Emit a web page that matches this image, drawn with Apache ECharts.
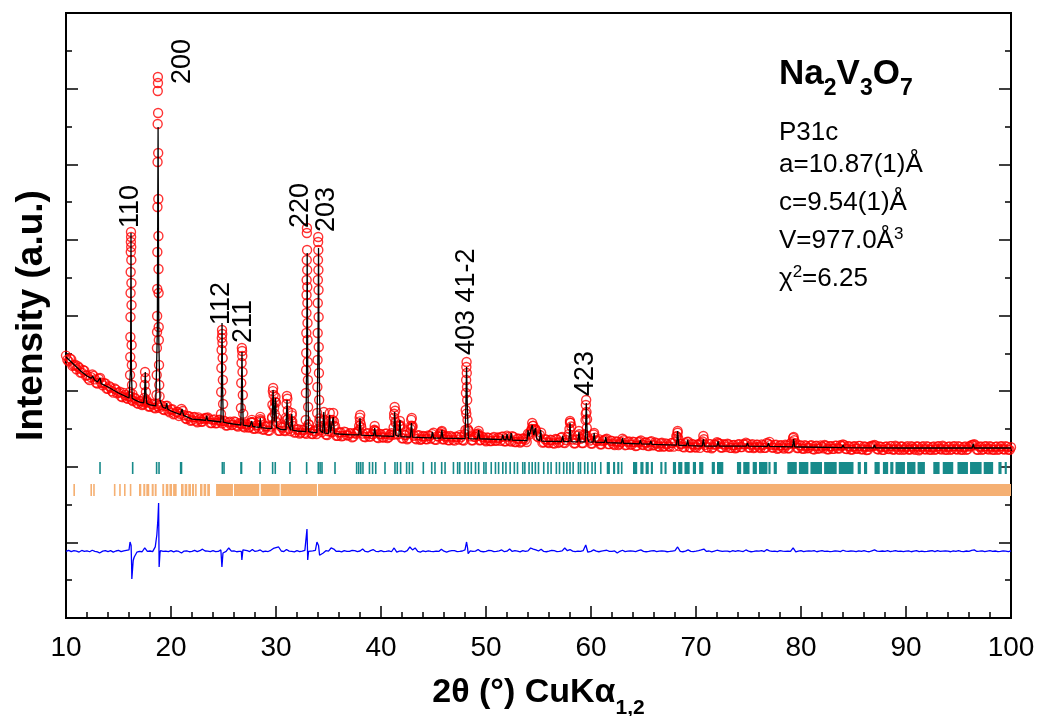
<!DOCTYPE html>
<html><head><meta charset="utf-8">
<script src="https://cdn.jsdelivr.net/npm/echarts@6/dist/echarts.min.js"></script>
<style>html,body{margin:0;padding:0;background:#fff;overflow:hidden}#c{width:1038px;height:716px}</style>
</head><body><div id="c"></div>
<script>
// ---------- DATA ----------
// observed background points: 2θ = obsStart + i*obsStep, and a second set offset by half a step
const obsStart = 10, obsStep = 0.25, obsStartMid = 10.125;
const obsBackground = [
3470,3393,3420,3342, 3289,3309,3244,3270, 3210,3145,3220,3155, 3101,3174,3078,3101,
3030,3050,2980,3020, 2980,2928,2977,2910, 2929,2886,2913,2844, 2866,2816,2850,2852,
2797,2825,2773,2800, 2815,2757,2804,2740, 2757,2694,2725,2672, 2764,2681,2632,2664,
2616,2658,2589,2631, 2598,2645,2651,2578, 2620,2575,2615,2600, 2610,2545,2585,2550,
2600,2545,2575,2560, 2520,2555,2525,2591, 2506,2552,2629,2490, 2532,2479,2530,2560,
2600,2476,2527,2479, 2620,2503,2680,2451, 2488,2440,2491,2448, 2520,2487,2433,2465,
2500,2484,2543,2426, 2470,2458,2536,2410, 2453,2401,2464,2418, 2441,2389,2448,2461,
2600,2438,2391,2445, 2398,2431,2470,2378, 2432,2386,2439,2393, 2442,2650,2429,2548,
2376,2420,2364,2452, 2541,2375,2413,2357, 2406,2365,2413,2372, 2450,2355,2399,2459,
2363,2407,2351,2391, 2345,2394,2418,2353, 2432,2500,2401,2350, 2395,2439,2353,2388,
2337,2381,2339,2393, 2347,2380,2399,2337, 2411,2345,2403,2327, 2371,2320,2373,2357,
2436,2464,2543,2482, 2390,2450,2324,2359, 2313,2352,2306,2361, 2325,2394,2313,2393,
2582,2361,2311,2410, 2370,2314,2700,2368, 2307,2426,2345,2364, 2297,2351,2370,2299,
2342,2286,2330,2303, 2371,2285,2329,2292, 2331,2275,2323,2347, 2286,2320,2273,2337,
2286,2309,2263,2317, 2270,2299,2263,2316, 2325,2450,2304,2262, 2311,2330,2254,2292,
2254,2294,2314,2364, 2259,2299,2244,2294, 2324,2304,2254,2289, 2304,2249,2284,2244,
2294,2259,2299,2319, 2254,2289,2248,2293, 2261,2296,2250,2315, 2329,2253,2288,2237,
2281,2256,2290,2244, 2304,2380,2312,2247, 2281,2236,2275,2250, 2285,2229,2279,2243,
2268,2287,2232,2271, 2236,2280,2245,2284, 2294,2238,2273,2227, 2267,2241,2276,2230,
2270,2220,2264,2279, 2289,2234,2268,2223, 2263,2238,2273,2228, 2278,2233,2268,2223,
2258,2228,2273,2238, 2268,2218,2263,2233, 2273,2228,2258,2223, 2268,2238,2278,2228,
2263,2223,2268,2233, 2273,2228,2258,2223, 2268,2288,2298,2228, 2263,2223,2268,2238,
2273,2228,2263,2223, 2268,2233,2273,2228, 2258
];
const obsBackgroundMid = [
3414,3431,3333,3351, 3329,3244,3279,3205, 3165,3185,3201,3111, 3163,3111,3105,3033,
3065,3000,3035,2970, 2992,2920,2949,2897, 2932,2869,2901,2833, 2871,2826,2861,2797,
2834,2782,2830,2778, 2808,2750,2807,2719, 2760,2702,2724,2701, 2737,2639,2671,2608,
2654,2606,2653,2595, 2631,2643,2630,2577, 2627,2577,2622,2573, 2602,2547,2597,2557,
2592,2532,2572,2532, 2568,2518,2583,2503, 2544,2506,2597,2494, 2535,2477,2654,2701,
2577,2474,2516,2473, 2634,2471,2538,2455, 2496,2453,2485,2437, 2558,2435,2476,2433,
2595,2458,2522,2420, 2539,2457,2535,2409, 2457,2410,2458,2412, 2445,2398,2437,2480,
2519,2397,2440,2399, 2432,2490,2389,2433, 2391,2435,2379,2423, 2421,2600,2428,2547,
2375,2419,2378,2542, 2410,2364,2418,2367, 2400,2364,2407,2431, 2360,2404,2439,2363,
2397,2352,2406,2355, 2399,2359,2393,2347, 2700,2471,2350,2395, 2429,2349,2398,2353,
2386,2340,2379,2343, 2386,2344,2398,2337, 2395,2334,2393,2327, 2370,2334,2373,2327,
2425,2493,2492,2401, 2420,2319,2364,2323, 2357,2312,2366,2315, 2384,2319,2353,2432,
2532,2311,2356,2430, 2314,2429,2628,2347, 2306,2385,2339,2298, 2341,2360,2299,2343,
2301,2335,2288,2327, 2350,2289,2333,2292, 2325,2279,2333,2292, 2320,2279,2328,2282,
2320,2273,2307,2266, 2309,2273,2312,2266, 2404,2273,2302,2256, 2329,2258,2301,2260,
2294,2249,2334,2289, 2254,2299,2259,2294, 2314,2254,2299,2259, 2294,2249,2289,2254,
2299,2259,2294,2304, 2254,2299,2258,2292, 2246,2286,2250,2300, 2289,2253,2293,2247,
2286,2241,2280,2244, 2324,2303,2247,2282, 2241,2286,2245,2280, 2235,2274,2239,2283,
2243,2277,2232,2271, 2236,2280,2240,2274, 2284,2233,2268,2227, 2272,2236,2276,2230,
2265,2225,2269,2274, 2279,2229,2263,2223, 2268,2233,2273,2228, 2263,2223,2268,2233,
2273,2228,2263,2223, 2268,2233,2273,2228, 2263,2223,2268,2233, 2273,2228,2263,2223,
2268,2233,2273,2228, 2263,2223,2268,2233, 2273,2288,2283,2223, 2268,2233,2273,2228,
2263,2223,2268,2233, 2273,2228,2263,2223
];
// observed points on the Bragg peaks [2θ, I]
const obsPeaks = [
[16.08,2988],[16.10,3213],[16.12,3451],[16.13,3716],[16.14,3980],[16.15,4297],[16.16,4575],[16.17,4840],[16.18,4972],[16.19,5104],[16.20,5038],[16.21,4906],[16.22,4734],[16.23,4430],[16.24,4139],[16.25,3610],[16.27,3345],[16.29,3081],[16.33,2960],
[17.45,2909],[17.49,3081],[17.53,3253],[17.57,3174],[17.61,2988],[17.66,2880],
[18.62,2949],[18.64,3213],[18.66,3570],[18.67,3782],[18.68,3993],[18.69,4350],[18.70,4840],[18.71,5435],[18.72,6030],[18.73,6532],[18.74,6969],[18.75,7154],[18.76,7074],[18.77,6678],[18.78,6149],[18.79,5540],[18.80,5051],[18.81,4615],[18.82,4297],[18.83,3848],[18.84,3676],[18.86,3345],[18.88,3081],[18.91,2930],
[24.76,2697],[24.78,2988],[24.80,3306],[24.82,3544],[24.84,3702],[24.86,3808],[24.88,3755],[24.90,3636],[24.92,3438],[24.94,3147],[24.96,2830],
[26.66,2777],[26.69,3107],[26.72,3372],[26.75,3570],[26.77,3531],[26.79,3464],[26.81,3253],[26.84,2949],[26.88,2700],
[27.66,2590],[27.70,2620],[27.74,2580],[28.45,2600],[28.50,2660],[28.55,2610],
[29.62,2640],[29.66,2820],[29.70,3000],[29.73,3041],[29.77,2950],[29.82,2780],[29.90,2860],[29.95,2922],[30.00,2850],[30.06,2650],
[30.95,2650],[31.00,2830],[31.04,2936],[31.08,2900],[31.12,2740],[31.18,2580],[31.45,2600],[31.50,2711],[31.55,2600],
[32.83,2618],[32.85,2975],[32.87,3279],[32.88,3504],[32.89,3769],[32.90,4033],[32.91,4271],[32.92,4469],[32.93,4734],[32.94,5091],[32.95,5157],[32.96,4866],[32.97,4602],[32.98,4377],[32.99,4165],[33.00,3901],[33.01,3676],[33.02,3385],[33.04,3147],[33.06,2790],[33.10,2560],
[33.92,2711],[33.94,3055],[33.96,3412],[33.97,3769],[33.98,4165],[33.99,4469],[34.00,4734],[34.01,4972],[34.02,5038],[34.03,4866],[34.04,4602],[34.05,4337],[34.06,3980],[34.07,3583],[34.09,3240],[34.11,2883],[34.15,2640],
[34.50,2600],[34.55,2724],[34.60,2620],[35.05,2600],[35.12,2711],[35.20,2620],[35.38,2620],[35.45,2711],[35.52,2600],
[37.92,2540],[37.97,2650],[38.02,2684],[38.08,2560],[39.35,2480],[39.40,2539],[39.45,2470],
[41.20,2520],[41.25,2700],[41.30,2790],[41.35,2740],[41.40,2580],[41.75,2540],[41.80,2605],[41.85,2530],
[42.82,2500],[42.88,2620],[42.93,2645],[42.98,2520],[45.75,2430],[45.80,2473],[45.86,2420],
[48.04,2486],[48.07,2750],[48.09,2975],[48.11,3147],[48.13,3319],[48.15,3385],[48.17,3240],[48.19,3055],[48.21,2883],[48.24,2618],[48.30,2480],
[49.25,2420],[49.30,2473],[49.36,2410],[54.35,2500],[54.40,2578],[54.45,2540],[54.70,2500],
[57.95,2500],[58.00,2605],[58.05,2580],[58.85,2473],
[59.45,2420],[59.48,2618],[59.51,2816],[59.54,2883],[59.57,2724],[59.60,2512],[59.65,2400],
[60.30,2446],[68.20,2400],[68.25,2473],[68.30,2380],[70.70,2407],[79.30,2393],[79.35,2350]
];
// calculated profile [2θ, I]
const calcPoints = [
[10,3451],[10.5,3385],[11,3319],[11.5,3253],[12,3200],[12.4,3170],[12.55,3200],[12.7,3150],[13,3121],[13.15,3110],[13.25,3174],[13.35,3100],[13.5,3094],[14,3055],[15,2975],[15.5,2942],[16,2909],[16.1,2915],[16.15,3300],[16.19,5091],[16.23,3300],[16.3,2905],[16.6,2880],[17,2856],[17.4,2845],[17.48,2950],[17.55,3253],[17.62,2950],[17.7,2838],[18,2817],[18.55,2805],[18.7,3808],[18.74,5527],[18.77,6492],[18.8,5263],[18.84,3676],[18.95,2883],[19.2,2790],[19.5,2770],[19.6,2843],[19.7,2760],[20,2737],[20.9,2690],[21.05,2764],[21.2,2680],[22,2631],[23,2618],[23.3,2614],[23.4,2671],[23.5,2612],[24,2605],[24.75,2592],[24.8,3000],[24.86,3901],[24.92,3000],[24.98,2590],[25.5,2575],[26,2565],[26.65,2552],[26.7,2900],[26.76,3517],[26.82,2900],[26.88,2550],[27.5,2535],[27.62,2540],[27.7,2605],[27.78,2535],[28,2526],[28.42,2520],[28.5,2645],[28.58,2518],[29,2512],[29.6,2505],[29.72,3015],[29.83,2600],[29.95,2909],[30.05,2520],[30.5,2492],[30.95,2490],[31.05,2883],[31.15,2560],[31.4,2482],[31.5,2697],[31.6,2480],[32,2473],[32.85,2465],[32.92,3400],[32.97,4826],[33.02,3300],[33.1,2465],[33.5,2453],[33.9,2450],[34.0,3600],[34.05,4893],[34.1,3500],[34.2,2480],[34.45,2450],[34.55,2724],[34.65,2445],[35.0,2440],[35.1,2684],[35.2,2450],[35.35,2440],[35.45,2658],[35.55,2438],[36,2433],[37,2426],[37.9,2421],[38.0,2645],[38.1,2419],[38.5,2416],[39.3,2411],[39.4,2512],[39.5,2410],[40,2407],[41.2,2401],[41.3,2724],[41.4,2420],[41.7,2399],[41.8,2618],[41.9,2398],[42.8,2392],[42.9,2578],[43.0,2391],[44,2386],[44.8,2381],[44.9,2460],[45.0,2380],[45.7,2379],[45.8,2486],[45.9,2378],[47,2375],[48.0,2372],[48.08,2800],[48.15,3319],[48.22,2800],[48.32,2371],[49.2,2369],[49.3,2486],[49.4,2368],[50,2367],[51.5,2360],[51.6,2420],[51.7,2358],[51.9,2357],[52.0,2433],[52.1,2355],[52.3,2354],[52.4,2446],[52.5,2353],[53.9,2346],[54.0,2486],[54.1,2400],[54.4,2552],[54.55,2420],[54.7,2512],[54.85,2360],[55.1,2345],[55.2,2486],[55.3,2340],[57.2,2334],[57.3,2407],[57.4,2333],[57.9,2332],[58.0,2578],[58.1,2332],[58.75,2330],[58.85,2460],[58.95,2330],[59.45,2329],[59.55,2843],[59.65,2380],[59.8,2328],[60.2,2326],[60.3,2446],[60.4,2325],[61.3,2321],[61.4,2393],[61.5,2320],[62.9,2312],[63.0,2380],[63.1,2311],[64.6,2302],[64.7,2354],[64.8,2302],[65.6,2298],[65.7,2340],[65.8,2297],[68.15,2285],[68.25,2473],[68.35,2284],[69.1,2281],[69.2,2354],[69.3,2280],[70.6,2274],[70.7,2367],[70.8,2274],[72.0,2274],[72.1,2340],[72.2,2274],[74.8,2274],[74.9,2314],[75.0,2274],[76.8,2270],[76.9,2314],[77.0,2269],[79.2,2263],[79.3,2367],[79.4,2262],[80,2261],[83.9,2254],[84.0,2287],[84.1,2254],[86.9,2249],[87.0,2287],[87.1,2249],[90,2248],[96.3,2248],[96.4,2301],[96.5,2248],[100,2248]
];
// difference curve: regular points 2θ = diffStart + i*diffStep, plus sharp features [2θ, I]
const diffStart = 10, diffStep = 0.25;
const diffValues = [
880,895,878,890, 884,872,893,880, 888,876,896,882, 875,860,884,892, 879,890,872,886,
894,878,889,895, 900,700,807,870, 882,876,926,880, 886,878,940,1300, 892,880,885,878,
890,875,888,880, 860,885,888,876, 880,894,877,890, 910,886,884,879, 890,877,880,900,
886,880,926,884, 888,876,880,767, 884,890,878,905, 880,889,900,876, 884,879,895,920,
930,939,886,878, 905,884,880,874, 890,877,884,895, 900,880,888,894, 990,850,860,890,
885,926,912,880, 884,874,890,882, 880,893,892,878, 886,912,880,873, 891,905,882,877,
890,879,880,889, 876,926,870,884, 886,875,890,939, 900,926,880,872, 889,879,888,880,
878,885,880,910, 884,872,884,891, 890,878,880,886, 900,920,888,880, 884,905,880,876,
882,893,890,878, 880,888,900,877, 884,912,880,890, 884,875,890,881, 888,926,910,900,
886,910,880,876, 884,893,890,879, 880,887,926,890, 905,884,878,884, 880,890,965,870,
882,900,884,876, 884,890,896,880, 880,887,860,882, 896,878,884,889, 884,879,890,900,
882,876,880,888, 890,878,884,886, 884,876,880,885, 890,939,880,876, 884,900,882,879,
884,890,900,912, 880,886,874,884, 896,888,880,885, 884,876,890,880, 890,884,879,900,
885,876,880,889, 884,890,878,905, 888,880,884,877, 890,884,880,885, 880,926,875,884,
890,878,884,887, 884,890,876,884, 892,880,884,877, 880,889,884,878, 896,884,880,886,
884,878,889,881, 890,880,876,888, 900,884,880,886, 882,890,878,884, 892,880,884,879,
884,888,876,883, 890,879,884,877, 880,886,890,878, 892,880,884,887, 884,876,889,880,
890,882,878,886, 882,895,900,880, 884,889,877,884, 890,880,886,878, 880,888,884,879,
888
];
const diffFeatures = [
[13.2,860],[16.1,1005],[16.15,1000],[16.2,960],[16.27,516],[16.4,760],[18.65,1098],[18.82,1521],[18.87,674],[18.95,860],
[24.85,674],[24.95,860],[26.7,880],[26.85,900],[32.9,920],[32.95,1177],[33.02,767],[33.1,880],
[33.9,1005],[34.05,960],[34.15,830],[48.15,1005],[48.3,850],[59.7,870]
];
// Bragg reflection positions, [from, to] in 2θ (single lines have from = to)
const phase1Ticks = [
[13.24,13.24],[16.35,16.35],[18.63,18.63],[18.86,18.86],[20.92,20.92],[21.0,21.0],[24.89,24.89],[25.05,25.05],[26.67,26.67],[26.72,26.72],[28.48,28.48],[29.68,29.68],[29.93,29.93],[31.33,31.33],[32.92,32.92],[34.03,34.03],[34.2,34.2],[34.35,34.41],[35.62,35.62],[37.68,37.68],[37.85,37.9],[38.05,38.1],[38.25,38.31],[38.9,38.9],[39.2,39.2],[39.5,39.5],[40.38,40.38],[41.33,41.33],[41.55,41.55],[41.87,41.87],[42.44,42.44],[42.7,42.7],[43.0,43.0],[44.03,44.03],[44.83,44.83],[45.14,45.14],[45.78,45.78],[46.1,46.1],
[46.9,46.9],[47.3,47.3],[47.5,47.5],[48.0,48.0],[48.3,48.3],[48.6,48.6],[49.0,49.0],[49.3,49.3],[49.8,49.8],[50.0,50.0],[50.5,50.5],[50.9,50.9],[51.2,51.2],[51.6,51.6],[51.9,51.9],[52.3,52.3],[52.7,52.7],[53.0,53.0],[53.5,53.5],[53.7,53.7],[54.1,54.1],[54.4,54.4],[54.7,54.7],[55.0,55.0],[55.5,55.5],[55.9,55.9],[56.2,56.2],[56.7,56.7],[57.0,57.0],[57.4,57.4],[57.7,57.7],[58.0,58.0],[58.3,58.3],[58.8,58.8],[59.0,59.0],[59.4,59.4],[59.7,59.7],[60.1,60.1],[60.4,60.4],[60.86,61.0],[61.5,61.8],[62.1,62.3],[62.5,62.7],[62.85,63.0],[64.0,64.4],[64.7,65.0],[65.2,65.5],[65.7,65.9],[66.6,66.8],[67.0,67.2],[67.8,68.1],[68.3,68.7],[68.9,69.4],[69.7,70.0],[70.3,70.7],[71.5,71.8],[72.0,72.6],[73.9,74.3],[74.5,75.1],[75.4,75.8],[76.0,76.8],[76.9,77.1],[77.4,77.7],[78.7,79.6],[79.8,80.7],[80.9,82.0],[82.2,83.4],[83.6,85.0],[85.4,85.7],[86.0,86.3],[87.0,87.5],[87.8,88.3],[88.5,88.8],[89.0,89.9],[90.1,90.9],[91.1,91.8],[92.6,93.2],[93.5,94.5],[94.9,95.9],[96.1,97.2],[97.4,98.3],[98.8,99.1],[99.4,99.6]
];
const phase2Ticks = [
[10.7,10.86],[12.35,12.45],[12.6,12.73],[14.57,14.7],[15.08,15.2],[15.55,15.65],[16.1,16.2],[16.95,17.17],[17.36,17.55],[17.65,17.93],[18.16,18.35],[18.45,18.63],[19.17,19.35],[19.5,19.75],[19.85,20.1],[20.2,20.54],[20.95,21.2],[21.3,21.55],[21.65,21.9],[22.0,22.2],[22.3,22.44],[22.76,23.0],[23.1,23.35],[23.45,23.71],[24.29,25.9],[26.0,28.4],[28.55,30.35],[30.45,33.9],[34.0,100]
];
// Miller-index annotations
const hklNames = ['110','200','112','211','220','203','403 41-2','423'];
const hklAngles = [16.19,21.14,24.86,26.95,32.38,34.86,48.1,59.52];
const hklHeights = [5157,7061,3874,3636,5157,5104,3478,2936];
const xTickValues = [10,20,30,40,50,60,70,80,90,100];
const phase1Row = [1904, 2063];
const phase2Row = [1613, 1772];

// ---------- CHART ----------
const FONT = '"Liberation Sans", Arial, Helvetica, sans-serif';
const obsData = obsBackground.map((v,i)=>[obsStart + i*obsStep, v])
  .concat(obsBackgroundMid.map((v,i)=>[obsStartMid + i*obsStep, v]))
  .concat(obsPeaks);
const diffData = diffValues.map((v,i)=>[diffStart + i*diffStep, v]).concat(diffFeatures)
  .sort((a,b)=>a[0]-b[0]);
const chart = echarts.init(document.getElementById('c'), null, {renderer:'canvas'});

function tickSeries(data, row, color){
  return {
    type:'custom', data: data, clip:true, z: 1, silent:true,
    renderItem: function(params, api){
      const a = api.coord([api.value(0), row[1]]);
      const b = api.coord([api.value(1), row[0]]);
      let w = b[0]-a[0], x = a[0];
      if (w < 1.6){ x = (a[0]+b[0])/2 - 0.8; w = 1.6; }
      return {type:'rect', shape:{x:x, y:a[1], width:w, height:b[1]-a[1]}, style:{fill:color}};
    }
  };
}
const yAxisBase = {
  type:'value', min:0, max:8000, interval:1000,
  axisLine:{show:true, lineStyle:{color:'#000', width:2}},
  axisTick:{show:true, inside:true, length:12, lineStyle:{color:'#000', width:1.5}},
  minorTick:{show:true, splitNumber:2, length:6, lineStyle:{color:'#000', width:1.5}},
  axisLabel:{show:false}, splitLine:{show:false}
};
chart.setOption({
  animation:false,
  backgroundColor:'#fff',
  grid:{left:66, right:27, top:13, bottom:98, containLabel:false, outerBoundsMode:'none',
        show:true, borderColor:'#000', borderWidth:2, backgroundColor:'transparent'},
  xAxis:{
    type:'value', min:10, max:100, interval:10,
    axisLine:{show:true, onZero:false, lineStyle:{color:'#000', width:2}},
    axisTick:{show:true, inside:true, length:12, lineStyle:{color:'#000', width:1.5}},
    minorTick:{show:true, splitNumber:5, length:6, lineStyle:{color:'#000', width:1.5}},
    axisLabel:{fontSize:28, color:'#000', margin:16, fontFamily:FONT,
      formatter: v => xTickValues.indexOf(v) >= 0 ? String(v) : ''},
    splitLine:{show:false},
    name:'2θ (°) CuKα{sub|1,2}', nameLocation:'middle', nameGap:40,
    nameTextStyle:{fontSize:34, fontWeight:'bold', color:'#000', fontFamily:FONT, lineHeight:52,
      rich:{sub:{fontSize:21, fontWeight:'bold', color:'#000', fontFamily:FONT, lineHeight:22, verticalAlign:'bottom'}}}
  },
  yAxis:[
    Object.assign({}, yAxisBase, {position:'left', name:'Intensity (a.u.)', nameLocation:'middle', nameGap:16, nameRotate:90,
      nameTextStyle:{fontSize:37, fontWeight:'bold', color:'#000', fontFamily:FONT}}),
    Object.assign({}, yAxisBase, {position:'right'})
  ],
  series:[
    tickSeries(phase2Ticks, phase2Row, '#f5b073'),
    tickSeries(phase1Ticks, phase1Row, '#178a8a'),
    {type:'line', data:diffData, showSymbol:false, symbol:'none', z:2, silent:true,
     lineStyle:{color:'#0000ff', width:1.3}},
    {type:'scatter', data:obsData, symbol:'circle', symbolSize:9, z:3, silent:true,
     itemStyle:{color:'rgba(0,0,0,0)', borderColor:'#ff0000', borderWidth:1.4}},
    {type:'line', data:calcPoints, showSymbol:false, symbol:'none', z:4, silent:true,
     lineStyle:{color:'#000', width:1.3}},
    {type:'custom', z:5, silent:true, clip:false,
     data: hklAngles.map((a,i)=>[a, hklHeights[i]]),
     renderItem:function(params, api){
       const p = api.coord([api.value(0), api.value(1)]);
       return {type:'text', x:p[0], y:p[1], rotation:Math.PI/2,
         style:{text:hklNames[params.dataIndex], fontSize:27, fontFamily:FONT, fill:'#000', align:'left', verticalAlign:'middle'}};
     }}
  ],
  graphic:[
    {type:'text', x:779, y:48, silent:true, style:{
      text:'{b|Na}{s|2}{b|V}{s|3}{b|O}{s|7}', fill:'#000', fontFamily:FONT,
      rich:{b:{fontSize:35, fontWeight:'bold', fontFamily:FONT, lineHeight:52, verticalAlign:'middle'},
            s:{fontSize:23, fontWeight:'bold', fontFamily:FONT, lineHeight:23, verticalAlign:'bottom'}}}},
    {type:'text', x:779, y:133, silent:true, style:{text:'P31c', fontSize:26, fontFamily:FONT, fill:'#000', verticalAlign:'middle'}},
    {type:'text', x:779, y:165, silent:true, style:{text:'a=10.87(1)Å', fontSize:26, fontFamily:FONT, fill:'#000', verticalAlign:'middle'}},
    {type:'text', x:779, y:203, silent:true, style:{text:'c=9.54(1)Å', fontSize:26, fontFamily:FONT, fill:'#000', verticalAlign:'middle'}},
    {type:'text', x:779, y:226, silent:true, style:{
      text:'{m|V=977.0Å}{p|3}', fill:'#000', fontFamily:FONT,
      rich:{m:{fontSize:26, fontFamily:FONT, lineHeight:30, verticalAlign:'middle'},
            p:{fontSize:17, fontFamily:FONT, lineHeight:17, verticalAlign:'top'}}}},
    {type:'text', x:779, y:264, silent:true, style:{
      text:'{m|χ}{p|2}{m|=6.25}', fill:'#000', fontFamily:FONT,
      rich:{m:{fontSize:26, fontFamily:FONT, lineHeight:30, verticalAlign:'middle'},
            p:{fontSize:17, fontFamily:FONT, lineHeight:17, verticalAlign:'top'}}}}
  ]
});
</script></body></html>
